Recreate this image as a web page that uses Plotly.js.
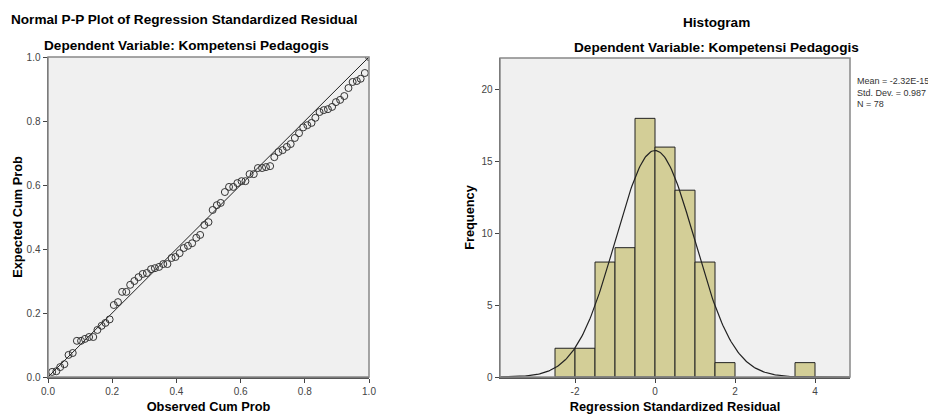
<!DOCTYPE html>
<html>
<head>
<meta charset="utf-8">
<script src="https://cdn.plot.ly/plotly-3.0.1.min.js"></script>
<style>html,body{margin:0;padding:0;background:#fff;}#chart{width:928px;height:414px;}</style>
</head>
<body>
<div id="chart"></div>
<script>
// ---- P-P plot data ----
const observedCumProb = [0.013,0.026,0.038,0.051,0.064,0.077,0.090,0.103,0.115,0.128,0.141,0.154,0.167,0.179,0.192,0.205,0.218,0.231,0.244,0.256,0.269,0.282,0.295,0.308,0.321,0.333,0.346,0.359,0.372,0.385,0.397,0.410,0.423,0.436,0.449,0.462,0.474,0.487,0.500,0.513,0.526,0.538,0.551,0.564,0.577,0.590,0.603,0.615,0.628,0.641,0.654,0.667,0.679,0.692,0.705,0.718,0.731,0.744,0.756,0.769,0.782,0.795,0.808,0.821,0.833,0.846,0.859,0.872,0.885,0.897,0.910,0.923,0.936,0.949,0.962,0.974,0.987,1.000];
const expectedCumProb = [0.016,0.018,0.031,0.040,0.069,0.075,0.113,0.113,0.119,0.125,0.125,0.147,0.160,0.169,0.180,0.225,0.234,0.266,0.266,0.288,0.300,0.312,0.322,0.325,0.337,0.340,0.344,0.353,0.353,0.372,0.375,0.387,0.403,0.410,0.418,0.435,0.444,0.475,0.484,0.522,0.537,0.544,0.578,0.594,0.594,0.606,0.612,0.612,0.634,0.634,0.653,0.653,0.656,0.659,0.687,0.703,0.709,0.719,0.728,0.747,0.762,0.780,0.787,0.794,0.810,0.828,0.834,0.837,0.844,0.859,0.866,0.878,0.903,0.922,0.925,0.932,0.950,1.000];
const refLineX = [0, 1];
const refLineY = [0, 1];
const ppTicks = [0.0, 0.2, 0.4, 0.6, 0.8, 1.0];
const ppTickLabels = ["0.0", "0.2", "0.4", "0.6", "0.8", "1.0"];

// ---- Histogram data ----
const binCenters = [-2.25, -1.75, -1.25, -0.75, -0.25, 0.25, 0.75, 1.25, 1.75, 3.75];
const binCounts  = [2, 2, 8, 9, 18, 16, 13, 8, 1, 1];
const binWidth = 0.5;
const histXTicks = [-2, 0, 2, 4];
const histXTickLabels = ["-2", "0", "2", "4"];
const histYTicks = [0, 5, 10, 15, 20];
const histYTickLabels = ["0", "5", "10", "15", "20"];
const statMean = -2.32e-15;
const statSD = 0.987;
const statN = 78;
const statsText = "Mean = -2.32E-15<br>Std. Dev. = 0.987<br>N = 78";

// normal curve fitted from the reported statistics
const histXRange = [-3.875, 4.875];
const curveX = [], curveY = [];
for (let k = 0; k <= 300; k++) {
  const x = histXRange[0] + (histXRange[1] - histXRange[0]) * k / 300;
  const z = (x - statMean) / statSD;
  curveX.push(x);
  curveY.push(statN * binWidth * Math.exp(-0.5 * z * z) / (statSD * Math.sqrt(2 * Math.PI)));
}

const FONT = "Liberation Sans, Arial, sans-serif";
const tickFont = {family: FONT, size: 10, color: "#444"};
const titleFont = {family: FONT, size: 12.8, color: "#000", weight: "bold"};
const headFont = {family: FONT, size: 13.6, color: "#000"};

const traces = [
  {x: refLineX, y: refLineY, xaxis: "x", yaxis: "y", mode: "lines", type: "scatter",
   line: {color: "#222", width: 1}, hoverinfo: "skip", showlegend: false},
  {x: observedCumProb, y: expectedCumProb, xaxis: "x", yaxis: "y", mode: "markers", type: "scatter",
   marker: {symbol: "circle-open", size: 7, color: "#333", line: {width: 1, color: "#333"}}, showlegend: false},
  {x: binCenters, y: binCounts, xaxis: "x2", yaxis: "y2", type: "bar", width: binWidth,
   marker: {color: "#D3CE97", line: {color: "#222", width: 1}}, showlegend: false},
  {x: curveX, y: curveY, xaxis: "x2", yaxis: "y2", mode: "lines", type: "scatter",
   line: {color: "#222", width: 1.2}, hoverinfo: "skip", showlegend: false}
];

const axBase = {showgrid: false, zeroline: false, showline: true, linecolor: "#555", linewidth: 1.5,
  mirror: false, ticks: "outside", ticklen: 4, tickcolor: "#444", tickfont: tickFont};

const layout = {
  width: 928, height: 414,
  margin: {l: 0, r: 0, t: 0, b: 0},
  paper_bgcolor: "#fff", plot_bgcolor: "#F0F0F0",
  bargap: 0,
  xaxis: Object.assign({}, axBase, {domain: [48/928, 369/928], range: [0, 1], anchor: "y",
    tickvals: ppTicks, ticktext: ppTickLabels,
    title: {text: "Observed Cum Prob", font: titleFont, standoff: 8}}),
  yaxis: Object.assign({}, axBase, {domain: [37/414, 357/414], range: [0, 1], anchor: "x",
    tickvals: ppTicks, ticktext: ppTickLabels,
    title: {text: "Expected Cum Prob", font: titleFont, standoff: 1}}),
  xaxis2: Object.assign({}, axBase, {domain: [500/928, 850/928], range: histXRange, anchor: "y2",
    tickvals: histXTicks, ticktext: histXTickLabels,
    title: {text: "Regression Standardized Residual", font: titleFont, standoff: 8}}),
  yaxis2: Object.assign({}, axBase, {domain: [37/414, 356/414], range: [0, 22.2], anchor: "x2",
    tickvals: histYTicks, ticktext: histYTickLabels,
    title: {text: "Frequency", font: titleFont, standoff: 4}}),
  shapes: [
    {type: "rect", xref: "paper", yref: "paper", x0: 48/928, x1: 369/928, y0: 37/414, y1: 357/414,
     line: {color: "#888", width: 1.5}, layer: "above"},
    {type: "rect", xref: "paper", yref: "paper", x0: 500/928, x1: 850/928, y0: 37/414, y1: 356/414,
     line: {color: "#888", width: 1.5}, layer: "above"}
  ],
  annotations: [
    {text: "<b>Normal P-P Plot of Regression Standardized Residual</b>", xref: "paper", yref: "paper",
     x: 9/928, y: 1 - 20/414, xanchor: "left", yanchor: "middle", showarrow: false, font: headFont},
    {text: "<b>Dependent Variable: Kompetensi Pedagogis</b>", xref: "paper", yref: "paper",
     x: 186/928, y: 1 - 45/414, xanchor: "center", yanchor: "middle", showarrow: false, font: headFont},
    {text: "<b>Histogram</b>", xref: "paper", yref: "paper",
     x: 716/928, y: 1 - 22/414, xanchor: "center", yanchor: "middle", showarrow: false, font: headFont},
    {text: "<b>Dependent Variable: Kompetensi Pedagogis</b>", xref: "paper", yref: "paper",
     x: 716/928, y: 1 - 47/414, xanchor: "center", yanchor: "middle", showarrow: false, font: headFont},
    {text: statsText, xref: "paper", yref: "paper", x: 855/928, y: 1 - 74/414,
     xanchor: "left", yanchor: "top", align: "left", showarrow: false,
     font: {family: FONT, size: 9, color: "#333"}}
  ]
};

Plotly.newPlot("chart", traces, layout, {staticPlot: true, displayModeBar: false});
</script>
</body>
</html>
